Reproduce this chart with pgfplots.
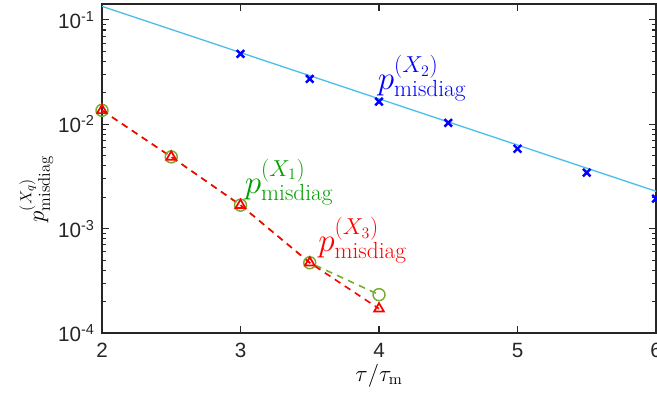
\documentclass[border=0pt]{standalone}
\usepackage{pgfplots}
\pgfplotsset{compat=1.18}
\usepackage[no-math]{fontspec}
\setmainfont{Liberation Sans}
\definecolor{skyb}{rgb}{0.30,0.75,0.93}
\definecolor{olive}{rgb}{0.47,0.67,0.19}
\definecolor{lblgreen}{rgb}{0.0,0.62,0.0}
\newcommand{\plab}[3]{\fontsize{#1}{#1}\selectfont$p^{\mbox{\fontsize{#2}{#2}\selectfont$(X_{#3})$}}_{\mbox{\fontsize{#2}{#2}\selectfont\fontfamily{lmr}\selectfont misdiag}}$}
\begin{document}
\begin{tikzpicture}
\begin{axis}[
  scale only axis,
  width=415.5pt, height=246.75pt,
  ymode=log,
  xmin=2, xmax=6, ymin=1e-4, ymax=0.142,
  xtick={2,3,4,5,6},
  ytick={1e-4,1e-3,1e-2,1e-1},
  yticklabels={10\textsuperscript{-4},10\textsuperscript{-3},10\textsuperscript{-2},10\textsuperscript{-1}},
  /pgf/number format/assume math mode=true,
  tick label style={font=\fontsize{15.5}{17}\selectfont, color=black!85},
  xticklabel style={yshift=-4pt},
  yticklabel style={xshift=-2pt},
  axis line style={black!85, line width=1.1pt},
  tick style={black!85, line width=0.8pt},
  major tick length=5pt, minor tick length=3pt,
  xlabel={\fontsize{18}{20}\selectfont $\tau/\tau_{\mathrm{m}}$},
  ylabel={\plab{19}{12.6}{q}},
  ylabel style={at={(rel axis cs:0,0.438)}, anchor=south, yshift=33pt},
  xlabel style={yshift=2pt},
  clip=false,
]
\addplot[skyb, line width=1pt] coordinates {(2,0.135) (6,0.00228)};
\addplot[only marks, blue, mark=x, mark size=4pt, line width=1.8pt] coordinates {
(3,0.0473) (3.5,0.0272) (4,0.0165) (4.5,0.0103) (5,0.00583) (5.5,0.00344) (6,0.00194)};
\addplot[olive, line width=1.2pt, dash pattern=on 5pt off 4pt, mark=o, mark size=4.5pt, mark options={solid, line width=1.1pt}] coordinates {
(2,0.0136) (2.5,0.00487) (3,0.00168) (3.5,0.000471) (4,0.000233)};
\addplot[red, line width=1.2pt, dash pattern=on 5pt off 4pt, mark=triangle, mark size=4.2pt, mark options={solid, line width=1.3pt}] coordinates {
(2,0.0136) (2.5,0.00487) (3,0.00168) (3.5,0.000471) (4,0.000171)};
\node[anchor=base west, text=blue, inner sep=0pt] at (axis cs:3.99,0.0214) {\plab{26}{17.5}{2}};
\node[anchor=base west, text=lblgreen, inner sep=0pt] at (axis cs:3.03,0.00218) {\plab{26}{17.5}{1}};
\node[anchor=base west, text=red, inner sep=0pt] at (axis cs:3.56,0.000600) {\plab{26}{17.5}{3}};
\end{axis}
\pgfresetboundingbox
\path (current axis.south west) ++(-76.5pt,-48pt) coordinate (BL);
\path (current axis.south west) ++(416.25pt,249.75pt) coordinate (TR);
\path (BL) rectangle (TR);
\end{tikzpicture}
\end{document}
